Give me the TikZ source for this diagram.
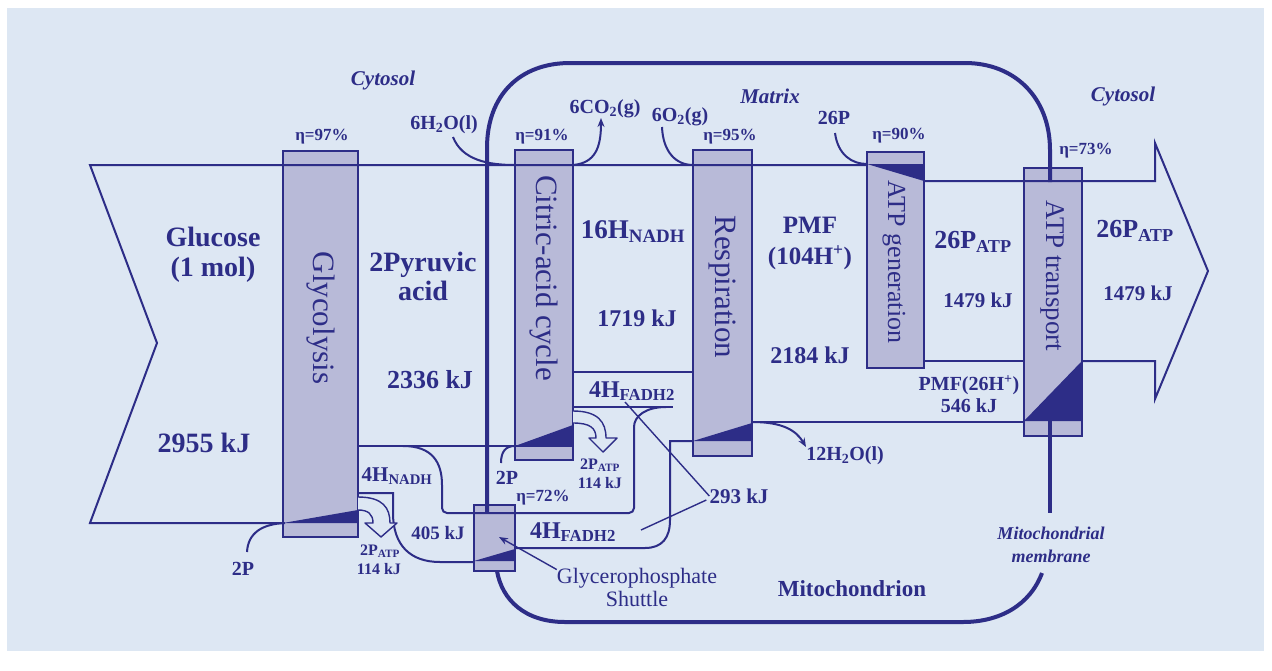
\documentclass[tikz,border=0pt]{standalone}
\usepackage{fontspec}
\setmainfont{Liberation Serif}
\usetikzlibrary{arrows.meta}
\definecolor{ink}{RGB}{45,45,135}
\definecolor{bg}{RGB}{221,231,243}
\definecolor{boxfill}{RGB}{184,186,216}
\newcommand{\myfs}[2]{\fontsize{#1}{#2}\selectfont}
\newcommand{\sbs}[1]{\textsubscript{#1}}
\tikzset{
 stage/.style={draw=ink, fill=boxfill, line width=1.6pt},
 band/.style={draw=ink, line width=2pt},
 thinband/.style={draw=ink, line width=1.4pt},
 membrane/.style={draw=ink, line width=4pt},
 hollow/.style={draw=ink, fill=bg, line width=1.4pt, line join=round},
 tip/.style={-{Stealth[length=9pt,width=7pt]}},
 t/.style={text=ink, inner sep=0pt, align=center},
 big/.style={t, font={\bfseries\myfs{28}{30}}},
 mid/.style={t, font={\bfseries\myfs{24}{26}}},
 med/.style={t, font={\bfseries\myfs{21}{22}}},
 sml/.style={t, font={\bfseries\myfs{20}{22}}},
 tiny/.style={t, font={\bfseries\myfs{16}{16}}},
 eta/.style={t, font={\bfseries\myfs{17}{18}}},
 region/.style={t, font={\bfseries\itshape\myfs{21}{22}}},
 memlab/.style={t, font={\bfseries\itshape\myfs{18}{23}}},
 stagelab/.style={t, font={\myfs{31}{31}}, rotate=-90},
}
\begin{document}
\begin{tikzpicture}[x=1pt,y=-1pt]
\useasboundingbox (0,0) rectangle (1272,670);
\fill[white] (0,0) rectangle (1272,670);
\fill[bg] (7,8) rectangle (1264,651);

% stage boxes
\draw[stage] (283,151) rectangle (358,537);
\draw[stage] (515,150) rectangle (573,460);
\draw[stage] (693,150) rectangle (752,456);
\draw[stage] (867,152) rectangle (924,368);
\draw[stage] (1024,168) rectangle (1082,436);
\draw[stage] (474,505) rectangle (515,571);

% loss triangles
\fill[ink] (283,523) -- (358,510) -- (358,523) -- cycle;
\fill[ink] (515,446) -- (573,425) -- (573,446) -- cycle;
\fill[ink] (693,441) -- (752,423) -- (752,441) -- cycle;
\fill[ink] (867,164) -- (924,164) -- (924,181) -- cycle;
\fill[ink] (1024,421) -- (1082,361) -- (1082,421) -- cycle;
\fill[ink] (474,561) -- (515,549) -- (515,561) -- cycle;

% main flow outline
\draw[band] (867,165) -- (90,165) -- (157,343) -- (90,523) -- (283,523);
\draw[band] (924,181) -- (1155,181) -- (1155,143) -- (1208,271) -- (1155,399) -- (1155,361) -- (1082,361);
\draw[band] (924,361) -- (1024,361);
\draw[band] (752,422) -- (1024,422);
\draw[band] (358,446) -- (573,446);
\draw[band] (573,372) -- (693,372);
\draw[band] (573,407) -- (673,407);

% NADH band to shuttle and FADH2 band to respiration
\draw[band, rounded corners=5pt] (403,446) .. controls (432,446) and (442,462) .. (442,490) -- (442,513) -- (634,513) -- (634,432) .. controls (634,416) and (646,407) .. (666,407);
\draw[band] (358,493) -- (393,493) -- (393,513) .. controls (393,545) and (410,562) .. (440,562) -- (474,562);
\draw[band] (515,548) -- (645,548) .. controls (662,548) and (670,538) .. (670,520) -- (670,441) -- (693,441);

% inputs / outputs
\draw[band] (247,552) .. controls (248,533) and (262,524) .. (285,523);
\draw[band] (501,463) .. controls (501,451) and (506,446) .. (515,446);
\draw[band] (453,137) .. controls (462,160) and (488,165) .. (515,165);
\draw[band, tip] (573,165) .. controls (595,163) and (601,148) .. (601,118);
\draw[band] (662,127) .. controls (663,152) and (676,165) .. (693,165);
\draw[band] (835,133) .. controls (838,155) and (852,164) .. (867,164);
\draw[band, tip] (752,422) .. controls (782,422) and (796,430) .. (806,447);

% hollow ATP arrows
\draw[hollow] (358,497) .. controls (383,497) and (390,508) .. (390,523) -- (397,523) -- (381,537) -- (365,523) -- (373,523) .. controls (373,514) and (368,510) .. (358,510);
\draw[hollow] (573,411) .. controls (598,411) and (606,422) .. (606,438) -- (617,438) -- (603,452) -- (589,438) -- (596,438) .. controls (596,428) and (590,423) .. (573,423);

% membrane
\draw[membrane] (487,512) -- (487,148) .. controls (487,95) and (520,63) .. (570,63) -- (965,63) .. controls (1015,63) and (1050,98) .. (1050,150) -- (1050,182);
\draw[membrane] (1050,421) -- (1050,513);
\draw[membrane] (1042,573) .. controls (1030,605) and (1000,622) .. (963,622) -- (565,622) .. controls (525,622) and (502,600) .. (497,571);

% stage labels
\node[stagelab] (lglyc) at (321,318) {Glycolysis};
\node[stagelab] (lcit) at (544,278) {Citric-acid cycle};
\node[stagelab] (lresp) at (722,287) {Respiration};
\node[stagelab, font={\myfs{26}{26}}] (lgen) at (894,262) {ATP generation};
\node[stagelab, font={\myfs{27}{27}}] (ltr) at (1053,276) {ATP transport};

% region labels
\node[region] (cyt1) at (383,80) {Cytosol};
\node[region] (cyt2) at (1123,96) {Cytosol};
\node[region] (matrix) at (770,96) {Matrix};
\node[big, font={\bfseries\myfs{23}{24}}] (mito) at (852,589) {Mitochondrion};
\node[memlab] (meml) at (1051,545) {Mitochondrial\\membrane};

% efficiencies
\node[eta] (e97) at (322,137) {η=97\%};
\node[eta] (e91) at (542,137) {η=91\%};
\node[eta] (e95) at (730,137) {η=95\%};
\node[eta] (e90) at (899,136) {η=90\%};
\node[eta] (e73) at (1086,151) {η=73\%};
\node[eta] (e72) at (543,498) {η=72\%};

% substances
\node[sml] (h2o6) at (444,125) {6H\sbs{2}O(l)};
\node[sml] (co2) at (605,109) {6CO\sbs{2}(g)};
\node[sml] (o2) at (680,117) {6O\sbs{2}(g)};
\node[sml] (p26) at (834,118) {26P};
\node[sml] (h2o12) at (845,456) {12H\sbs{2}O(l)};
\node[sml] (p2g) at (243,569) {2P};
\node[sml] (p2c) at (507,478) {2P};

% flow labels
\node[big] (glc) at (213,255) {Glucose\\(1 mol)};
\node[big] (e2955) at (204,443) {2955 kJ};
\node[big, font={\bfseries\myfs{28}{29}}] (pyr) at (423,276) {2Pyruvic\\acid};
\node[big, font={\bfseries\myfs{26}{26}}] (e2336) at (430,380) {2336 kJ};
\node[big, font={\bfseries\myfs{27}{27}}] (nadh16) at (633,232) {16H\sbs{NADH}};
\node[mid] (e1719) at (637,318) {1719 kJ};
\node[big, font={\bfseries\myfs{25}{31}}] (pmf) at (810,243) {PMF\\(104H\textsuperscript{+})};
\node[mid] (e2184) at (810,355) {2184 kJ};
\node[big, font={\bfseries\myfs{26}{26}}] (patp1) at (973,242) {26P\sbs{ATP}};
\node[med] (e1479a) at (978,300) {1479 kJ};
\node[big, font={\bfseries\myfs{26}{26}}] (patp2) at (1135,231) {26P\sbs{ATP}};
\node[med] (e1479b) at (1138,293) {1479 kJ};
\node[sml] (pmf26) at (969,394) {PMF(26H\textsuperscript{+})\\546 kJ};
\node[mid] (fadhu) at (632,391) {4H\sbs{FADH2}};
\node[mid] (fadhl) at (573,532) {4H\sbs{FADH2}};
\node[med] (e293) at (739,496) {293 kJ};
\node[t, font={\bfseries\myfs{19}{20}}] (e405) at (438,533) {405 kJ};
\node[med] (nadh4) at (397,476) {4H\sbs{NADH}};
\node[tiny] (atpg1) at (380,551) {2P\sbs{ATP}};
\node[tiny] (atpg2) at (379,569) {114 kJ};
\node[tiny] (atpc1) at (600,465) {2P\sbs{ATP}};
\node[tiny] (atpc2) at (600,483) {114 kJ};
\node[t, font={\myfs{22}{23}}] (gps) at (637,587) {Glycerophosphate\\Shuttle};

% pointers
\draw[thinband] (625,402) -- (e293.west);
\draw[thinband] (e293.west) ++(-3,4) -- (641,530);
\draw[thinband, tip] (gps.north west) ++(0,2) -- (499,537);
\end{tikzpicture}
\end{document}
